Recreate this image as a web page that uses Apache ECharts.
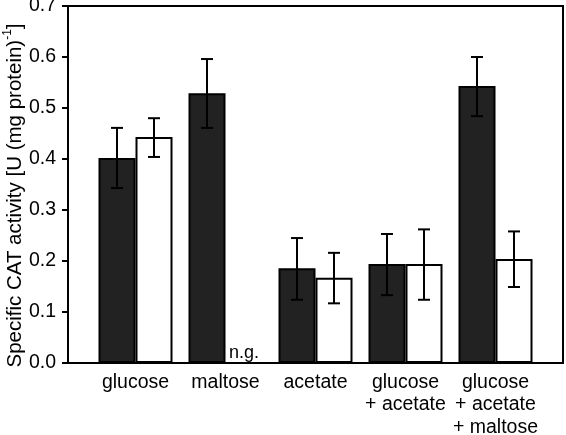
<!DOCTYPE html>
<html>
<head>
<meta charset="utf-8">
<script src="https://cdn.jsdelivr.net/npm/echarts@6/dist/echarts.min.js"></script>
<style>html,body{margin:0;padding:0;background:#fff}#c{width:566px;height:435px}</style>
</head>
<body>
<div id="c"></div>
<script>
var categories = ['glucose', 'maltose', 'acetate', 'glucose\n+ acetate', 'glucose\n+ acetate\n+ maltose'];
var blackValues = [0.402, 0.529, 0.186, 0.194, 0.543];
var blackErrLow = [0.343, 0.461, 0.124, 0.133, 0.484];
var blackErrHigh = [0.461, 0.596, 0.245, 0.253, 0.600];
var whiteValues = [0.443, null, 0.167, 0.194, 0.204];
var whiteErrLow = [0.404, null, 0.117, 0.124, 0.149];
var whiteErrHigh = [0.480, null, 0.216, 0.262, 0.258];
var yTicks = [0, 0.1, 0.2, 0.3, 0.4, 0.5, 0.6, 0.7];

var BAR_W = 37;
var FONT = 'Liberation Sans, Arial, sans-serif';

function barData(vals) {
  return vals.map(function (v, i) {
    if (v === null) {
      return {
        value: [i + 1, 0],
        itemStyle: { color: 'rgba(0,0,0,0)', borderColor: 'rgba(0,0,0,0)', borderWidth: 0 },
        label: { show: true, position: 'top', distance: 1, formatter: 'n.g.', color: '#000', fontSize: 18, fontFamily: FONT }
      };
    }
    return [i + 1, v];
  });
}
function errData(lo, hi) {
  var out = [];
  lo.forEach(function (l, i) { if (l !== null) out.push([i + 1, l, hi[i]]); });
  return out;
}
function errSeries(lo, hi, shift) {
  return {
    type: 'custom',
    z: 5,
    data: errData(lo, hi),
    encode: { x: 0, y: [1, 2] },
    renderItem: function (params, api) {
      var x = api.value(0), l = api.value(1), h = api.value(2);
      var p1 = api.coord([x, l]), p2 = api.coord([x, h]);
      var cx = p1[0] + shift, cap = 6;
      var st = { stroke: '#000', lineWidth: 2 };
      return {
        type: 'group',
        children: [
          { type: 'line', shape: { x1: cx, y1: p1[1], x2: cx, y2: p2[1] }, style: st },
          { type: 'line', shape: { x1: cx - cap, y1: p1[1], x2: cx + cap, y2: p1[1] }, style: st },
          { type: 'line', shape: { x1: cx - cap, y1: p2[1], x2: cx + cap, y2: p2[1] }, style: st }
        ]
      };
    }
  };
}

var chart = echarts.init(document.getElementById('c'), null, { renderer: 'canvas' });
chart.setOption({
  animation: false,
  backgroundColor: '#fff',
  grid: { left: 68, right: 3, top: 6, bottom: 72, containLabel: false, outerBoundsMode: 'none', show: true, borderColor: '#000', borderWidth: 2, backgroundColor: 'transparent' },
  xAxis: {
    type: 'value', min: 0.25, max: 5.75, interval: 0.25,
    splitLine: { show: false },
    axisTick: { show: false },
    axisLine: { show: true, lineStyle: { color: '#000', width: 2 } },
    axisLabel: {
      color: '#000', fontSize: 19.5, fontFamily: FONT, margin: 8, lineHeight: 22.5,
      showMinLabel: false, showMaxLabel: false,
      formatter: function (v) {
        var r = Math.round(v);
        if (Math.abs(v - r) < 1e-6 && r >= 1 && r <= categories.length) return categories[r - 1];
        return '';
      }
    }
  },
  yAxis: {
    type: 'value', min: 0, max: 0.7, interval: 0.1,
    splitLine: { show: false },
    axisLine: { show: true, lineStyle: { color: '#000', width: 2 } },
    axisTick: { show: true, inside: false, length: 6, lineStyle: { color: '#000', width: 2 } },
    axisLabel: {
      color: '#000', fontSize: 19.5, fontFamily: FONT, margin: 12,
      formatter: function (v) {
        for (var i = 0; i < yTicks.length; i++) if (Math.abs(yTicks[i] - v) < 1e-9) return yTicks[i].toFixed(1);
        return '';
      }
    },
    name: '{a|Specific CAT activity [U (mg protein)}{s|-1}{a|]}',
    nameLocation: 'middle',
    nameMoveOverlap: false,
    nameGap: 42,
    nameTextStyle: {
      padding: [0, 22, 0, 0],
      rich: {
        a: { fontSize: 20.5, fontFamily: FONT, color: '#000', verticalAlign: 'bottom', lineHeight: 24 },
        s: { fontSize: 12, fontFamily: FONT, color: '#000', verticalAlign: 'top', lineHeight: 24 }
      }
    }
  },
  series: [
    {
      type: 'bar', barWidth: BAR_W, barGap: '0%', z: 2,
      data: barData(blackValues),
      itemStyle: { color: '#222', borderColor: '#000', borderWidth: 2 }
    },
    {
      type: 'bar', barWidth: BAR_W, barGap: '0%', z: 2,
      data: barData(whiteValues),
      itemStyle: { color: '#fff', borderColor: '#000', borderWidth: 2 }
    },
    errSeries(blackErrLow, blackErrHigh, -BAR_W / 2),
    errSeries(whiteErrLow, whiteErrHigh, BAR_W / 2)
  ]
});
</script>
</body>
</html>
